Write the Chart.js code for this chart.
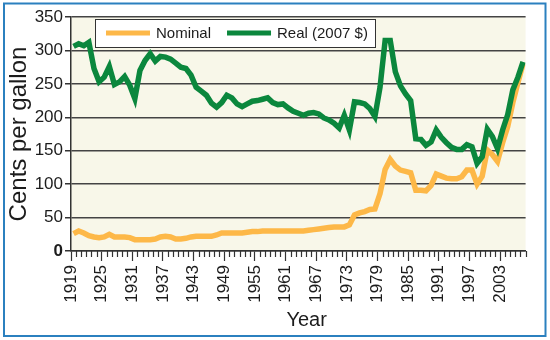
<!DOCTYPE html>
<html>
<head>
<meta charset="utf-8">
<title>Gasoline prices 1919-2007</title>
<script src="https://cdn.jsdelivr.net/npm/chart.js@4/dist/chart.umd.min.js"></script>
<style>
  html, body { margin: 0; padding: 0; background: #fff; }
  canvas { display: block; }
</style>
</head>
<body>
<canvas id="gasChart" width="550" height="340"></canvas>
<script>
// annual values, cents per gallon
const years = [
  1919,
  1920, 1921, 1922, 1923, 1924, 1925, 1926, 1927, 1928, 1929,
  1930, 1931, 1932, 1933, 1934, 1935, 1936, 1937, 1938, 1939,
  1940, 1941, 1942, 1943, 1944, 1945, 1946, 1947, 1948, 1949,
  1950, 1951, 1952, 1953, 1954, 1955, 1956, 1957, 1958, 1959,
  1960, 1961, 1962, 1963, 1964, 1965, 1966, 1967, 1968, 1969,
  1970, 1971, 1972, 1973, 1974, 1975, 1976, 1977, 1978, 1979,
  1980, 1981, 1982, 1983, 1984, 1985, 1986, 1987, 1988, 1989,
  1990, 1991, 1992, 1993, 1994, 1995, 1996, 1997, 1998, 1999,
  2000, 2001, 2002, 2003, 2004, 2005, 2006, 2007
];
const nominal = [
  26,
  30, 27, 23, 21, 20, 21, 25, 21, 21, 21,
  20, 17, 17, 17, 17, 18, 21, 22, 21, 18,
  18, 19, 21, 22, 22, 22, 22, 24, 27, 27,
  27, 27, 27, 28, 29, 29, 30, 30, 30, 30,
  30, 30, 30, 30, 30, 31, 32, 33, 34, 35,
  36, 36, 36, 39, 54, 57, 59, 62, 63, 86,
  122, 137, 127, 121, 119, 117, 91, 91, 90, 98,
  115, 112, 109, 108, 108, 111, 121, 121, 100, 112,
  151, 144, 134, 162, 186, 222, 252, 280
];
const real = [
  306,
  310, 307, 312, 273, 253, 260, 276, 249, 253, 261,
  248, 228, 270, 285, 295, 284, 291, 290, 287, 281,
  275, 273, 263, 245, 239, 233, 221, 215, 222, 233,
  229, 220, 216, 220, 224, 225, 227, 229, 222, 219,
  220, 214, 209, 206, 203, 206, 207, 205, 199, 196,
  191, 184, 203, 181, 223, 222, 220, 213, 201, 245,
  315, 315, 268, 247, 235, 225, 168, 167, 158, 163,
  181, 170, 162, 155, 152, 152, 159, 156, 131, 141,
  182, 171, 153, 181, 204, 241, 260, 283
];
const xTickYears = [1919, 1925, 1931, 1937, 1943, 1949, 1955, 1961, 1967, 1973, 1979, 1985, 1991, 1997, 2003];
const yTicks = [0, 50, 100, 150, 200, 250, 300, 350];

const FONT = 'Arial, "Liberation Sans", Helvetica, sans-serif';
const INK = '#1c1c1c';
const GRID = '#444';

// each annual value sits in the middle of its year slot
const toPoints = (vals) => years.map((yr, i) => ({ x: yr + 0.5, y: vals[i] }));

const plotBg = {
  id: 'plotBg',
  beforeDraw(chart) {
    const { ctx, chartArea: a } = chart;
    ctx.save();
    ctx.fillStyle = '#f8f7e9';
    ctx.fillRect(a.left, a.top, a.right - a.left, a.bottom - a.top);
    ctx.restore();
  }
};

const minorTicks = {
  id: 'minorTicks',
  afterDraw(chart) {
    const { ctx, chartArea: a } = chart;
    const xs = chart.scales.x;
    ctx.save();
    ctx.strokeStyle = '#333';
    ctx.lineWidth = 1.2;
    xs.ticks.forEach((t) => {
      if (xTickYears.includes(t.value)) return;
      const px = Math.round(xs.getPixelForValue(t.value)) + 0.5;
      ctx.beginPath();
      ctx.moveTo(px, a.bottom);
      ctx.lineTo(px, a.bottom + 6);
      ctx.stroke();
    });
    ctx.restore();
  }
};

const legendBox = {
  id: 'legendBox',
  afterDatasetsDraw(chart) {
    const { ctx, chartArea: a } = chart;
    const x0 = a.left + 24, y0 = a.top + 2, w = 280, h = 28;
    ctx.save();
    ctx.fillStyle = '#fff';
    ctx.fillRect(x0, y0, w, h);
    ctx.strokeStyle = '#333';
    ctx.lineWidth = 1;
    ctx.strokeRect(x0 + 0.5, y0 + 0.5, w, h);
    ctx.font = '15px ' + FONT;
    ctx.textBaseline = 'middle';
    const cy = y0 + h / 2;
    let x = x0 + 11;
    chart.data.datasets.forEach((ds) => {
      ctx.strokeStyle = ds.borderColor;
      ctx.lineWidth = 5;
      ctx.beginPath();
      ctx.moveTo(x, cy);
      ctx.lineTo(x + 44, cy);
      ctx.stroke();
      x += 50;
      ctx.fillStyle = INK;
      ctx.fillText(ds.label, x, cy + 1);
      x += ctx.measureText(ds.label).width + 16;
    });
    ctx.restore();
  }
};

const frame = {
  id: 'frame',
  afterDraw(chart) {
    const ctx = chart.ctx;
    ctx.save();
    ctx.strokeStyle = '#2b80bf';
    ctx.lineWidth = 2;
    ctx.strokeRect(4, 3.5, 541.5, 332.5);
    ctx.restore();
  }
};

new Chart(document.getElementById('gasChart'), {
  type: 'line',
  data: {
    datasets: [
      {
        label: 'Nominal',
        data: toPoints(nominal),
        borderColor: '#fdb848',
        borderWidth: 5.5,
        pointRadius: 0,
        tension: 0,
        order: 1
      },
      {
        label: 'Real (2007 $)',
        data: toPoints(real),
        borderColor: '#0b873d',
        borderWidth: 5.5,
        pointRadius: 0,
        tension: 0,
        order: 0
      }
    ]
  },
  options: {
    responsive: false,
    animation: false,
    devicePixelRatio: 1,
    layout: { padding: { left: 0, right: 5, top: 17, bottom: 0 } },
    plugins: {
      legend: { display: false },
      tooltip: { enabled: false }
    },
    scales: {
      x: {
        type: 'linear',
        min: 1919,
        max: 2008,
        afterFit: (s) => { s.height = 89; },
        border: { display: true, color: '#333', width: 1.5 },
        grid: {
          drawOnChartArea: false,
          drawTicks: true,
          tickLength: 10,
          tickWidth: 1.2,
          tickColor: (c) => (c.tick && xTickYears.includes(c.tick.value) ? '#333' : 'rgba(0,0,0,0)')
        },
        ticks: {
          stepSize: 1,
          maxTicksLimit: 200,
          autoSkip: false,
          minRotation: 90,
          maxRotation: 90,
          padding: 4,
          color: INK,
          font: { family: FONT, size: 17 },
          callback: (v) => (xTickYears.includes(v) ? String(v) : '')
        },
        title: {
          display: true,
          text: '   Year',
          color: INK,
          font: { family: FONT, size: 20 },
          padding: { top: 0, bottom: 8 }
        }
      },
      y: {
        min: yTicks[0],
        max: yTicks[yTicks.length - 1],
        afterFit: (s) => { s.width = 71; },
        afterBuildTicks: (s) => { s.ticks = yTicks.map((v) => ({ value: v })); },
        border: { display: true, color: '#333', width: 1.5 },
        grid: { color: GRID, lineWidth: 1.5, tickLength: 6, tickColor: '#333' },
        ticks: {
          padding: 2,
          color: INK,
          font: (c) => ({ family: FONT, size: 17, weight: c.tick && c.tick.value === 0 ? 'bold' : 'normal' })
        },
        title: {
          display: true,
          text: 'Cents per gallon',
          color: INK,
          font: { family: FONT, size: 24 },
          padding: { top: 5, bottom: 0 }
        }
      }
    }
  },
  plugins: [plotBg, minorTicks, legendBox, frame]
});
</script>
</body>
</html>
